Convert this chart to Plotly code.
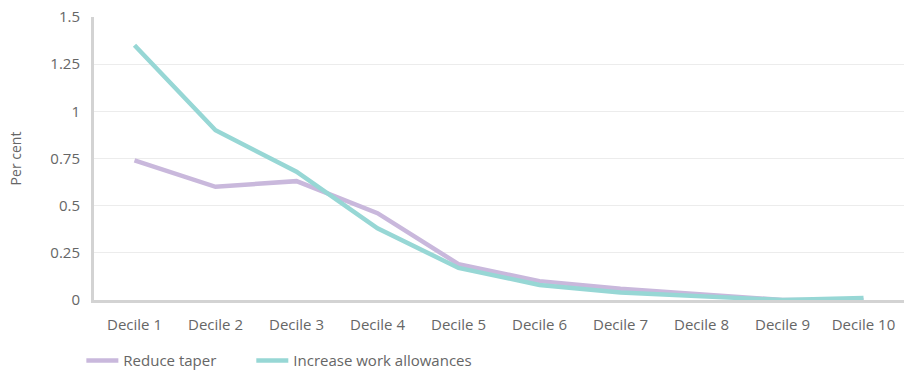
import plotly.graph_objects as go

deciles = [f"Decile {i}" for i in range(1, 11)]
reduce_taper = [0.74, 0.60, 0.63, 0.46, 0.19, 0.10, 0.06, 0.03, 0.0, 0.0]
increase_allowances = [1.35, 0.90, 0.68, 0.38, 0.17, 0.08, 0.04, 0.02, 0.0, 0.01]

fig = go.Figure()
fig.add_trace(go.Scatter(
    x=deciles, y=reduce_taper, mode="lines", name="Reduce taper",
    line=dict(color="#c9b8dc", width=4.5), legend="legend",
))
fig.add_trace(go.Scatter(
    x=deciles, y=increase_allowances, mode="lines", name="Increase work allowances",
    line=dict(color="#97d7d5", width=4.5), legend="legend2",
))

legend_style = dict(
    orientation="h",
    xref="container", yref="container",
    y=0.025, xanchor="left", yanchor="middle",
    font=dict(size=15, color="#666666"),
    itemwidth=32,
)

fig.update_layout(
    width=904,
    height=370,
    margin=dict(l=94, r=0, t=17, b=70),
    plot_bgcolor="white",
    paper_bgcolor="white",
    font=dict(family="Open Sans, sans-serif", size=15, color="#666666"),
    showlegend=True,
    legend=dict(x=0.09, **legend_style),
    legend2=dict(x=0.278, **legend_style),
)

fig.update_xaxes(
    type="category", range=[-0.5, 9.5],
    showline=True, linecolor="#d3d3d3", linewidth=3,
    showgrid=False, ticks="", ticklabelstandoff=9,
)
fig.update_yaxes(
    range=[0, 1.5], tickvals=[0, 0.25, 0.5, 0.75, 1, 1.25, 1.5],
    ticktext=["0", "0.25", "0.5", "0.75", "1", "1.25", "1.5"],
    showline=True, linecolor="#d3d3d3", linewidth=3,
    showgrid=True, gridcolor="#ececec", gridwidth=1,
    zeroline=False, ticks="", ticklabelstandoff=8,
    title=dict(text="Per cent", font=dict(size=14, color="#666666"), standoff=26),
)

# drop the default page margin so the chart sits flush in the window
fig.write_html(
    "out.html",
    config={"displayModeBar": False},
    post_script="document.body.style.margin='0';",
)
